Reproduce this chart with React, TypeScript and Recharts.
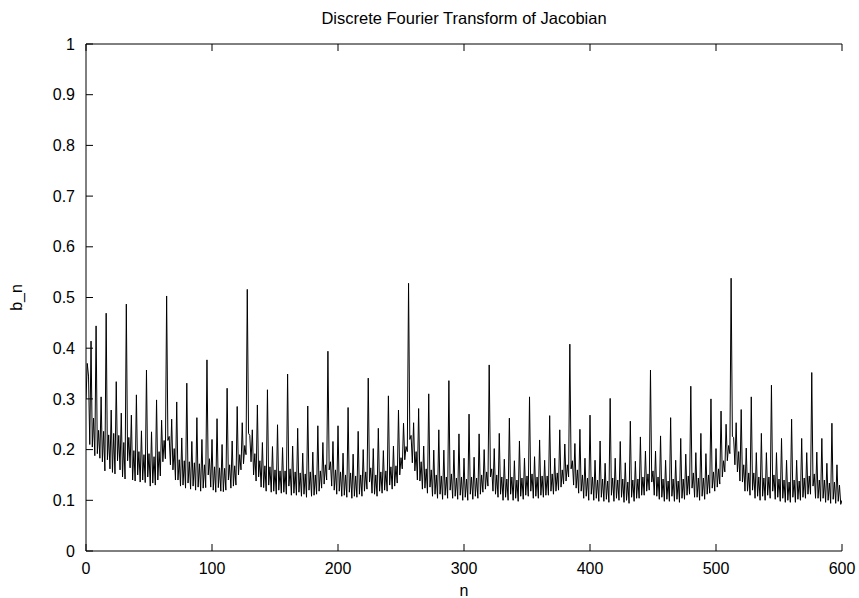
import { LineChart, Line, XAxis, YAxis } from "recharts";

const FONT = "'Liberation Sans', Arial, Helvetica, sans-serif";

const title = "Discrete Fourier Transform of Jacobian";
const xLabel = "n";
const yLabel = "b_n";

const xTicks = [0, 100, 200, 300, 400, 500, 600];
const yTicks = [0, 0.1, 0.2, 0.3, 0.4, 0.5, 0.6, 0.7, 0.8, 0.9, 1];

// b_n for n = 0..600, eight values per row
const bn = [
  0.300, 0.370, 0.345, 0.210, 0.414, 0.205, 0.262, 0.188,
  0.444, 0.192, 0.238, 0.183, 0.304, 0.176, 0.236, 0.158,
  0.469, 0.180, 0.229, 0.162, 0.278, 0.155, 0.232, 0.152,
  0.334, 0.178, 0.228, 0.160, 0.272, 0.146, 0.214, 0.142,
  0.487, 0.178, 0.224, 0.164, 0.268, 0.140, 0.198, 0.138,
  0.308, 0.150, 0.196, 0.136, 0.237, 0.140, 0.190, 0.135,
  0.357, 0.146, 0.192, 0.128, 0.235, 0.134, 0.186, 0.130,
  0.298, 0.140, 0.196, 0.148, 0.258, 0.176, 0.218, 0.182,
  0.503, 0.218, 0.226, 0.170, 0.260, 0.160, 0.202, 0.140,
  0.294, 0.140, 0.180, 0.128, 0.223, 0.130, 0.178, 0.124,
  0.331, 0.134, 0.176, 0.122, 0.216, 0.128, 0.174, 0.120,
  0.263, 0.126, 0.172, 0.118, 0.220, 0.124, 0.170, 0.125,
  0.377, 0.150, 0.182, 0.126, 0.220, 0.120, 0.166, 0.116,
  0.261, 0.125, 0.164, 0.118, 0.210, 0.117, 0.163, 0.120,
  0.321, 0.140, 0.170, 0.124, 0.217, 0.128, 0.168, 0.130,
  0.285, 0.150, 0.190, 0.160, 0.253, 0.172, 0.208, 0.190,
  0.516, 0.232, 0.228, 0.176, 0.239, 0.150, 0.192, 0.138,
  0.288, 0.146, 0.178, 0.126, 0.214, 0.125, 0.168, 0.118,
  0.318, 0.130, 0.166, 0.116, 0.206, 0.118, 0.160, 0.112,
  0.249, 0.120, 0.158, 0.114, 0.204, 0.116, 0.158, 0.112,
  0.349, 0.128, 0.162, 0.110, 0.207, 0.114, 0.156, 0.110,
  0.242, 0.116, 0.154, 0.108, 0.193, 0.112, 0.152, 0.106,
  0.286, 0.120, 0.156, 0.108, 0.195, 0.110, 0.150, 0.112,
  0.247, 0.118, 0.158, 0.124, 0.214, 0.132, 0.170, 0.140,
  0.394, 0.160, 0.176, 0.128, 0.216, 0.120, 0.160, 0.112,
  0.247, 0.118, 0.156, 0.108, 0.193, 0.110, 0.150, 0.106,
  0.283, 0.116, 0.154, 0.104, 0.191, 0.108, 0.148, 0.106,
  0.236, 0.112, 0.150, 0.108, 0.200, 0.118, 0.156, 0.122,
  0.341, 0.136, 0.164, 0.114, 0.202, 0.112, 0.150, 0.108,
  0.242, 0.118, 0.156, 0.114, 0.198, 0.120, 0.158, 0.118,
  0.306, 0.130, 0.166, 0.122, 0.207, 0.128, 0.168, 0.134,
  0.278, 0.150, 0.184, 0.162, 0.252, 0.180, 0.206, 0.196,
  0.528, 0.220, 0.228, 0.174, 0.253, 0.158, 0.196, 0.140,
  0.281, 0.138, 0.176, 0.122, 0.207, 0.124, 0.162, 0.114,
  0.310, 0.126, 0.160, 0.108, 0.199, 0.112, 0.150, 0.104,
  0.239, 0.112, 0.148, 0.102, 0.199, 0.110, 0.146, 0.104,
  0.336, 0.120, 0.152, 0.104, 0.199, 0.108, 0.144, 0.102,
  0.231, 0.110, 0.146, 0.100, 0.183, 0.106, 0.142, 0.100,
  0.270, 0.112, 0.146, 0.102, 0.185, 0.108, 0.144, 0.104,
  0.231, 0.112, 0.150, 0.116, 0.200, 0.122, 0.156, 0.128,
  0.367, 0.146, 0.162, 0.118, 0.202, 0.112, 0.150, 0.106,
  0.232, 0.112, 0.146, 0.100, 0.181, 0.106, 0.142, 0.100,
  0.262, 0.112, 0.146, 0.100, 0.178, 0.104, 0.140, 0.098,
  0.217, 0.108, 0.144, 0.102, 0.183, 0.110, 0.148, 0.108,
  0.304, 0.118, 0.152, 0.104, 0.186, 0.108, 0.146, 0.104,
  0.219, 0.110, 0.148, 0.106, 0.179, 0.110, 0.148, 0.110,
  0.267, 0.118, 0.152, 0.112, 0.183, 0.118, 0.154, 0.120,
  0.239, 0.126, 0.160, 0.132, 0.211, 0.138, 0.170, 0.146,
  0.408, 0.162, 0.178, 0.130, 0.212, 0.124, 0.160, 0.114,
  0.240, 0.118, 0.150, 0.104, 0.183, 0.108, 0.144, 0.100,
  0.268, 0.112, 0.146, 0.100, 0.179, 0.104, 0.140, 0.098,
  0.217, 0.106, 0.142, 0.098, 0.173, 0.102, 0.138, 0.096,
  0.301, 0.110, 0.144, 0.098, 0.183, 0.104, 0.140, 0.100,
  0.216, 0.106, 0.142, 0.096, 0.174, 0.100, 0.136, 0.094,
  0.256, 0.106, 0.140, 0.098, 0.177, 0.104, 0.142, 0.104,
  0.225, 0.110, 0.146, 0.110, 0.197, 0.118, 0.152, 0.120,
  0.357, 0.136, 0.158, 0.110, 0.197, 0.108, 0.146, 0.102,
  0.227, 0.106, 0.142, 0.098, 0.179, 0.102, 0.138, 0.098,
  0.263, 0.108, 0.142, 0.098, 0.179, 0.102, 0.138, 0.096,
  0.222, 0.104, 0.142, 0.102, 0.191, 0.110, 0.148, 0.112,
  0.325, 0.124, 0.154, 0.106, 0.194, 0.106, 0.144, 0.100,
  0.232, 0.108, 0.144, 0.102, 0.192, 0.112, 0.150, 0.114,
  0.300, 0.124, 0.156, 0.118, 0.202, 0.126, 0.162, 0.132,
  0.276, 0.146, 0.178, 0.156, 0.250, 0.178, 0.208, 0.192,
  0.538, 0.226, 0.224, 0.170, 0.253, 0.156, 0.196, 0.138,
  0.279, 0.136, 0.170, 0.118, 0.203, 0.118, 0.154, 0.110,
  0.304, 0.120, 0.154, 0.104, 0.194, 0.108, 0.146, 0.100,
  0.232, 0.108, 0.144, 0.100, 0.194, 0.110, 0.146, 0.104,
  0.327, 0.118, 0.150, 0.102, 0.194, 0.106, 0.142, 0.098,
  0.222, 0.104, 0.140, 0.096, 0.179, 0.100, 0.136, 0.096,
  0.260, 0.106, 0.140, 0.096, 0.179, 0.102, 0.138, 0.100,
  0.222, 0.106, 0.144, 0.104, 0.194, 0.112, 0.148, 0.112,
  0.352, 0.128, 0.152, 0.104, 0.195, 0.104, 0.140, 0.098,
  0.222, 0.104, 0.140, 0.096, 0.173, 0.100, 0.134, 0.094,
  0.252, 0.102, 0.136, 0.094, 0.170, 0.098, 0.130, 0.092,
  0.100,
];

const data = bn.map((b, n) => ({ n, b }));

const tickStyle = { fill: "#000", fontSize: 16, fontFamily: FONT };
const axisStroke = { stroke: "#000", strokeWidth: 1 };
const blank = () => "";

export default function App() {
  return (
    <div style={{ position: "absolute", left: 0, top: 0, width: 859, height: 598, background: "#fff" }}>
      <LineChart width={859} height={598} data={data} margin={{ top: 14, right: 17, left: 0, bottom: 0 }}>
        <XAxis
          dataKey="n"
          type="number"
          domain={[0, 600]}
          ticks={xTicks}
          allowDataOverflow
          height={47}
          tickSize={-7}
          tickMargin={19}
          tick={tickStyle}
          axisLine={axisStroke}
          tickLine={axisStroke}
          label={(p: any) => (
            <text
              x={p.viewBox.x + p.viewBox.width / 2}
              y={p.viewBox.y + 45}
              textAnchor="middle"
              fontSize={16}
              fontFamily={FONT}
              fill="#000"
            >
              {xLabel}
            </text>
          )}
        />
        <XAxis
          xAxisId="top"
          orientation="top"
          dataKey="n"
          type="number"
          domain={[0, 600]}
          ticks={xTicks}
          allowDataOverflow
          height={30}
          tickSize={-7}
          tickFormatter={blank}
          tick={tickStyle}
          axisLine={axisStroke}
          tickLine={axisStroke}
          label={(p: any) => (
            <text
              x={p.viewBox.x + p.viewBox.width / 2}
              y={p.viewBox.y + 10}
              textAnchor="middle"
              fontSize={16.5}
              fontFamily={FONT}
              fill="#000"
            >
              {title}
            </text>
          )}
        />
        <YAxis
          type="number"
          domain={[0, 1]}
          ticks={yTicks}
          allowDataOverflow
          width={86}
          tickSize={-7}
          tickMargin={18}
          tick={tickStyle}
          axisLine={axisStroke}
          tickLine={axisStroke}
          label={(p: any) => {
            const cx = p.viewBox.x + 22;
            const cy = p.viewBox.y + p.viewBox.height / 2;
            return (
              <text
                x={cx}
                y={cy}
                transform={`rotate(-90, ${cx}, ${cy})`}
                textAnchor="middle"
                fontSize={16}
                fontFamily={FONT}
                fill="#000"
              >
                {yLabel}
              </text>
            );
          }}
        />
        <YAxis
          yAxisId="right"
          orientation="right"
          type="number"
          domain={[0, 1]}
          ticks={yTicks}
          allowDataOverflow
          width={0}
          tickSize={-7}
          tickFormatter={blank}
          tick={tickStyle}
          axisLine={axisStroke}
          tickLine={axisStroke}
        />
        <Line
          type="linear"
          dataKey="b"
          stroke="#000"
          strokeWidth={1}
          dot={false}
          activeDot={false}
          isAnimationActive={false}
        />
      </LineChart>
    </div>
  );
}
